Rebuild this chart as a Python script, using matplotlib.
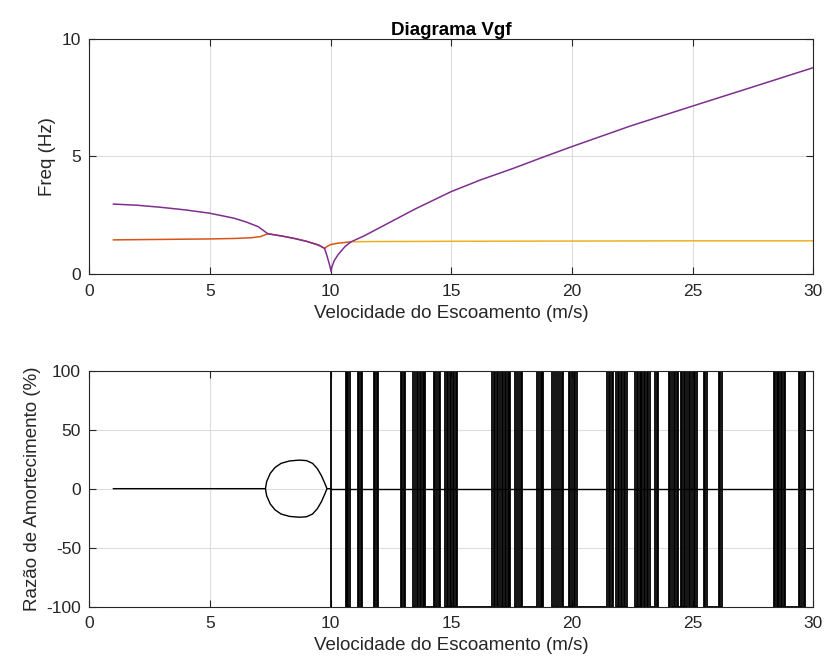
import matplotlib.pyplot as plt

plt.rcParams['font.family'] = ['Liberation Sans', 'DejaVu Sans']
plt.rcParams['axes.unicode_minus'] = False

# flow speed (m/s) and frequency (Hz) of the first mode
v_f1 = [1, 2, 3, 4, 5, 6, 6.5, 7, 7.4, 8, 8.5, 9, 9.5, 9.75, 9.86, 9.97, 10.02,
        10.05, 10.15, 10.3, 10.6, 10.85, 11.37, 12.5, 13.5, 15, 16.2, 17.58,
        18.8, 20, 22.41, 25, 27.52, 30]
f1 = [2.98, 2.93, 2.84, 2.73, 2.59, 2.38, 2.22, 2.02, 1.72, 1.62, 1.52, 1.40,
      1.24, 1.10, 0.75, 0.35, 0.12, 0.30, 0.58, 0.82, 1.18, 1.38, 1.62, 2.23,
      2.77, 3.51, 4.00, 4.50, 4.97, 5.42, 6.29, 7.14, 7.96, 8.77]

# second mode, before and after it splits off near 10 m/s
v_f2 = [1, 3, 5, 6, 6.7, 7.1, 7.4, 8, 8.5, 9, 9.5, 9.75, 9.85, 10.0, 10.3,
        10.6, 10.85]
f2 = [1.46, 1.48, 1.50, 1.52, 1.55, 1.60, 1.72, 1.62, 1.52, 1.40, 1.24, 1.10,
      1.18, 1.26, 1.32, 1.35, 1.38]
v_f3 = [10.85, 12, 15, 20, 25, 30]
f3 = [1.38, 1.39, 1.40, 1.41, 1.42, 1.42]

# damping ratio (%) of the coupled pair between 7.3 and 9.85 m/s
v_loop = [7.30, 7.35, 7.5, 7.7, 7.95, 8.3, 8.7, 9.0, 9.25, 9.45, 9.62, 9.75, 9.85]
z_loop = [0, 6, 13, 18, 21.5, 23.5, 24.2, 23.8, 21.5, 17, 11, 5, 0]

# speeds where the damping of the divergent mode jumps between +100 and -100
flips = [10.0,
         10.62, 10.68, 10.74, 10.80,
         11.12, 11.18, 11.25, 11.31,
         11.78, 11.85, 11.92, 11.97,
         12.90, 12.96, 13.03, 13.09,
         13.40, 13.48, 13.58, 13.64, 13.70, 13.76, 13.82, 13.88, 13.93,
         14.28, 14.34, 14.42, 14.48, 14.54,
         14.76, 14.82, 14.88, 14.94, 15.00, 15.06, 15.12, 15.18, 15.24,
         16.70, 16.76, 16.82, 16.88, 16.94, 17.00,
         17.10, 17.16, 17.22, 17.28, 17.34, 17.40, 17.45,
         17.66, 17.73, 17.80, 17.87, 17.93,
         18.56, 18.63, 18.70, 18.76, 18.82,
         19.18, 19.26, 19.36, 19.44, 19.52, 19.60, 19.65,
         19.86, 19.93, 20.00, 20.07, 20.14, 20.21,
         21.46, 21.52, 21.58, 21.64, 21.71,
         21.84, 21.90, 21.96, 22.02, 22.08, 22.14, 22.20, 22.27,
         22.62, 22.68, 22.74, 22.80, 22.86, 22.92, 22.98, 23.04, 23.10, 23.17, 23.24,
         23.46, 23.52, 23.58,
         24.01, 24.07, 24.13,
         24.22, 24.28, 24.34, 24.40,
         24.52, 24.58, 24.64, 24.70, 24.76,
         24.84, 24.90, 24.96,
         25.05, 25.11, 25.17,
         25.46, 25.52, 25.58,
         26.08, 26.14, 26.20,
         28.36, 28.42, 28.48, 28.54, 28.60, 28.66, 28.72, 28.78, 28.83,
         29.39, 29.46, 29.53, 29.60, 29.66]

xticks = [0, 5, 10, 15, 20, 25, 30]

c_axis = '#262626'


def matlab_style(ax):
    ax.grid(True, color='#dcdcdc', linewidth=0.8)
    ax.set_axisbelow(True)
    for s in ax.spines.values():
        s.set_color(c_axis)
        s.set_linewidth(0.8)
    ax.tick_params(direction='in', top=True, right=True, length=5, width=0.8,
                   colors=c_axis, labelsize=12.5)
    ax.tick_params(axis='x', pad=7)
    ax.tick_params(axis='y', pad=6)
    ax.set_xlim(0, 30)
    ax.set_xticks(xticks)


fig = plt.figure(figsize=(8.25, 6.68), dpi=100)
ax1 = fig.add_axes([0.1082, 0.5894, 0.8776, 0.3527])
ax2 = fig.add_axes([0.1082, 0.0918, 0.8776, 0.3533])

# frequencies
ax1.plot(v_f2, f2, color='#D95319', linewidth=1.1, zorder=2)
ax1.plot(v_f3, f3, color='#EDB120', linewidth=1.1, zorder=2)
ax1.plot(v_f1, f1, color='#7E2F8E', linewidth=1.1, zorder=3)
matlab_style(ax1)
ax1.set_ylim(0, 10)
ax1.set_yticks([0, 5, 10])
ax1.set_title('Diagrama Vgf', fontsize=13.5, fontweight='bold', color='black', pad=3)
ax1.set_xlabel('Velocidade do Escoamento (m/s)', fontsize=13.5, color=c_axis)
ax1.set_ylabel('Freq (Hz)', fontsize=13.5, color=c_axis)

# damping: zero line before the coupling, the loop, then the split modes
v_up = [1, 7.30] + v_loop[1:] + [10.0]
z_up = [0, 0] + z_loop[1:] + [0]
ax2.plot(v_up, z_up, color='black', linewidth=1.0)
ax2.plot(v_loop, [-z for z in z_loop], color='black', linewidth=1.0)
ax2.plot([10.0, 30], [0, 0], color='black', linewidth=1.0)

v_s, z_s = [], []
z = -100
for v in flips:
    v_s += [v, v]
    z_s += [z, -z]
    z = -z
v_s.append(30)
z_s.append(z)
ax2.plot(v_s, z_s, color='black', linewidth=1.3)

matlab_style(ax2)
ax2.set_ylim(-100, 100)
ax2.set_yticks([-100, -50, 0, 50, 100])
ax2.set_xlabel('Velocidade do Escoamento (m/s)', fontsize=13.5, color=c_axis)
ax2.set_ylabel('Razão de Amortecimento (%)', fontsize=13.5, color=c_axis)

fig.savefig('out.png', dpi=100)
